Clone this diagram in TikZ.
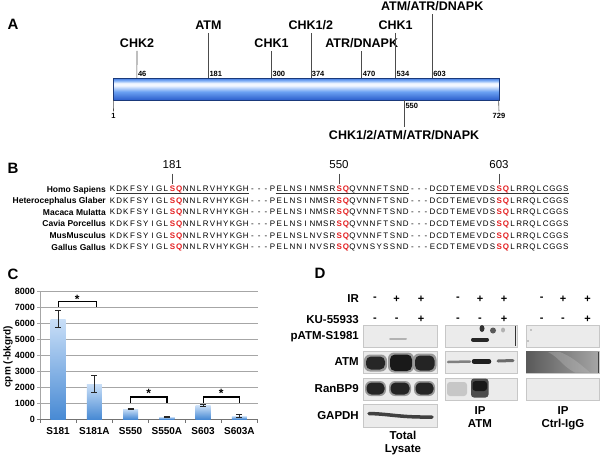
\documentclass[tikz,border=0pt]{standalone}
\usepackage{fontspec}
\setmainfont{Liberation Sans}
\definecolor{sqred}{HTML}{E41E20}
\definecolor{pb1}{rgb}{0.17,0.37,0.80}
\definecolor{pb2}{rgb}{0.42,0.63,0.95}
\definecolor{pb3}{rgb}{0.95,0.97,1.00}
\definecolor{pb4}{rgb}{0.52,0.70,0.97}
\definecolor{pb5}{rgb}{0.22,0.45,0.87}
\definecolor{cbtop}{RGB}{200,222,247}
\definecolor{cbbot}{RGB}{72,138,212}
\pgfdeclareverticalshading{protbar}{100bp}{color(0bp)=(pb1); color(25bp)=(pb1); color(44bp)=(pb2); color(58bp)=(pb3); color(63bp)=(pb3); color(69bp)=(pb4); color(75bp)=(pb5); color(100bp)=(pb5)}
\def\sqloop#1{\ifx\relax#1\else\makebox[6.667pt]{#1}\expandafter\sqloop\fi}
\newcommand\sqs[1]{\sqloop#1\relax}
\newcommand\rsq{{\color{sqred}\bfseries\sqs{SQ}}}
\newcommand\seqrow[3]{\sqs{KDKFSYIGL}\rsq\sqs{NNLRVHYKGH---#1}\rsq\sqs{#2---#3}\rsq\sqs{LRRQLCGGS}}
\begin{document}
\begin{tikzpicture}[x=1pt,y=-1pt,
  panel/.style={font=\bfseries\fontsize{15}{16}\selectfont, inner sep=0pt, text depth=0pt},
  lab/.style={font=\bfseries\fontsize{12.5}{14}\selectfont, inner sep=0pt, text depth=0pt, outer sep=3.5pt},
  num/.style={font=\bfseries\fontsize{7.5}{8}\selectfont, inner sep=0pt, text depth=0pt},
  tick/.style={draw=black!70, line width=0.6pt},
  resn/.style={font=\fontsize{11.5}{13}\selectfont, inner sep=0pt, text depth=0pt, outer sep=5pt},
  spec/.style={font=\bfseries\fontsize{8.5}{10}\selectfont, inner sep=0pt, text depth=0pt, anchor=east},
  seqt/.style={font=\fontsize{8}{10}\selectfont, inner sep=0pt, text depth=0pt, anchor=west},
  axl/.style={font=\bfseries\fontsize{9}{10}\selectfont, inner sep=0pt, text depth=0pt, anchor=east},
  catl/.style={font=\bfseries\fontsize{10}{11}\selectfont, inner sep=0pt, text depth=0pt},
  grid/.style={draw=black!35, line width=0.8pt},
  cbar/.style={top color=cbtop, bottom color=cbbot, draw=none},
  err/.style={draw=black!85, line width=0.8pt},
  brk/.style={draw=black, line width=1.2pt},
  star/.style={font=\bfseries\fontsize{12}{12}\selectfont, inner sep=0pt, anchor=base},
  lbl/.style={font=\bfseries\fontsize{11.5}{13}\selectfont, inner sep=0pt, text depth=0pt},
  sgn/.style={font=\bfseries\fontsize{11}{12}\selectfont, inner sep=0pt, text depth=0pt},
  blot/.style={fill=black!8, draw=black!22, line width=0.4pt}
]
\useasboundingbox (0,0) rectangle (600,456);
\fill[white] (0,0) rectangle (600,456);

% ---------------- Panel A ----------------
\node[panel] (pA) at (13,24) {A};
\node[draw=pb1!60!black, line width=0.7pt, minimum width=386pt, minimum height=22pt, inner sep=0pt, shading=protbar] (bar) at (306,89) {};

\node[lab] (kchk2) at (137,43) {CHK2};
\node[lab] (katm) at (208.4,25) {ATM};
\node[lab] (kchk1a) at (271.5,43) {CHK1};
\node[lab] (kchk12) at (310.8,25) {CHK1/2};
\node[lab] (katr) at (361.7,43) {ATR/DNAPK};
\node[lab] (kchk1b) at (395.6,25) {CHK1};
\node[lab] (kaad) at (432.2,6) {ATM/ATR/DNAPK};
\node[lab] (kall) at (404.1,135) {CHK1/2/ATM/ATR/DNAPK};

\coordinate (t46) at (136.9,78);
\coordinate (t181) at (208.4,78);
\coordinate (t300) at (271.5,78);
\coordinate (t374) at (310.8,78);
\coordinate (t470) at (361.7,78);
\coordinate (t534) at (395.6,78);
\coordinate (t603) at (432.2,78);
\coordinate (t550) at (404.1,100);

\draw[tick] (kchk2.south) -- (t46);
\draw[tick] (katm.south) -- (t181);
\draw[tick] (kchk1a.south) -- (t300);
\draw[tick] (kchk12.south) -- (t374);
\draw[tick] (katr.south) -- (t470);
\draw[tick] (kchk1b.south) -- (t534);
\draw[tick] (kaad.south) -- (t603);
\draw[tick] (t550) -- (kall.north);

\node[num, anchor=south west] (n46) at (137.8,76.5) {46};
\node[num, anchor=south west] (n181) at (209.3,76.5) {181};
\node[num, anchor=south west] (n300) at (272.4,76.5) {300};
\node[num, anchor=south west] (n374) at (311.7,76.5) {374};
\node[num, anchor=south west] (n470) at (362.6,76.5) {470};
\node[num, anchor=south west] (n534) at (396.5,76.5) {534};
\node[num, anchor=south west] (n603) at (433.1,76.5) {603};
\node[num, anchor=west] (n550) at (405.3,106) {550};
\node[num, outer sep=2pt] (n1) at (113.5,116) {1};
\node[num, outer sep=2pt] (n729) at (499,116) {729};
\coordinate (b1) at (113.3,100);
\coordinate (b729) at (498.6,100);
\draw[tick] (b1) -- (n1.north);
\draw[tick] (b729) -- (n729.north);

% ---------------- Panel B ----------------
\node[panel] (pB) at (13,168) {B};
\node[resn] (r181) at (172.3,164.5) {181};
\node[resn] (r550) at (339,164.5) {550};
\node[resn] (r603) at (499,164.5) {603};
\coordinate (q181) at (172.3,184);
\coordinate (q550) at (339,184);
\coordinate (q603) at (499,184);
\draw[tick] (r181.south) -- (q181);
\draw[tick] (r550.south) -- (q550);
\draw[tick] (r603.south) -- (q603);

\node[spec] (s1) at (106,189) {Homo Sapiens};
\node[spec] (s2) at (106,200.6) {Heterocephalus Glaber};
\node[spec] (s3) at (106,212.2) {Macaca Mulatta};
\node[spec] (s4) at (106,223.8) {Cavia Porcellus};
\node[spec] (s5) at (106,235.4) {MusMusculus};
\node[spec] (s6) at (106,247) {Gallus Gallus};
\node[seqt] (q1) at (109,189) {\seqrow{PELNSINMSR}{QVNNFTSND}{DCDTEMEVDS}};
\node[seqt] (q2) at (109,200.6) {\seqrow{PELNSINMSR}{QVNNFTSND}{DCDTEMEVDS}};
\node[seqt] (q3) at (109,212.2) {\seqrow{PELNSINMSR}{QVNNFTSND}{DCDTEMEVDS}};
\node[seqt] (q4) at (109,223.8) {\seqrow{PELNSINMSR}{QVNNFTSND}{DCDTEMEVDS}};
\node[seqt] (q5) at (109,235.4) {\seqrow{PELNSLNVSR}{QVNNFTSND}{DCDTEMEVDC}};
\node[seqt] (q6) at (109,247) {\seqrow{PELNNINVSR}{QVNSYSSND}{ECDTEMEVDS}};
\draw[black!80, line width=0.6pt] (115.7,193.6) -- (249,193.6);
\draw[black!80, line width=0.6pt] (275.7,193.6) -- (409,193.6);
\draw[black!80, line width=0.6pt] (435.7,193.6) -- (569,193.6);

% ---------------- Panel C ----------------
\node[panel] (pC) at (13,274) {C};
\foreach \v in {1,...,8} {
  \draw[grid] (40,{419-16*\v}) -- (257.5,{419-16*\v});
  \draw[grid] (37,{419-16*\v}) -- (40,{419-16*\v});
  \node[axl] at (35,{419-16*\v}) {\v000};
}
\node[axl] at (35,419) {0};
\draw[grid] (40,291) -- (40,419);
\draw[draw=black!55, line width=0.8pt] (37,419) -- (257.5,419);
\foreach \k in {0,...,6} \draw[draw=black!55, line width=0.7pt] ({40+36.25*\k},419) -- ({40+36.25*\k},423);
\node[font=\bfseries\fontsize{10}{11}\selectfont, inner sep=0pt, rotate=90] (ytit) at (8,357) {cpm (-bkgrd)};

\foreach \k/\val/\lo/\hi/\nm in {0/6200/5720/6770/S181, 1/2170/1650/2750/S181A, 2/620/600/640/S550, 3/130/100/170/S550A, 4/820/760/900/S603, 5/180/80/300/S603A} {
  \pgfmathsetmacro\cx{40+36.25*(\k+0.5)}
  \shade[cbar] ({\cx-7.5},419) rectangle ({\cx+7.5},{419-0.016*\val});
  \draw[err] (\cx,{419-0.016*\lo}) -- (\cx,{419-0.016*\hi});
  \draw[err] ({\cx-3},{419-0.016*\lo}) -- ({\cx+3},{419-0.016*\lo});
  \draw[err] ({\cx-3},{419-0.016*\hi}) -- ({\cx+3},{419-0.016*\hi});
  \node[catl] at (\cx,430.7) {\nm};
}
\draw[brk] (58.1,306.7) -- (58.1,301.7) -- (96.3,301.7) -- (96.3,306.7);
\node[star] (st1) at (77.2,303.5) {*};
\draw[brk] (130.6,402.7) -- (130.6,397) -- (167,397) -- (167,402.7);
\node[star] (st2) at (148.8,397.8) {*};
\draw[brk] (203.1,402.7) -- (203.1,397) -- (239.4,397) -- (239.4,402.7);
\node[star] (st3) at (221.2,397.8) {*};

% ---------------- Panel D ----------------
\node[panel] (pD) at (320,273) {D};
\node[lbl, anchor=east] (lIR) at (359,299) {IR};
\node[lbl, anchor=east] (lKU) at (359,319.3) {KU-55933};
\node[lbl, anchor=east] (lpATM) at (359,335) {pATM-S1981};
\node[lbl, anchor=east] (lATM) at (359,361.7) {ATM};
\node[lbl, anchor=east] (lRan) at (359,388.3) {RanBP9};
\node[lbl, anchor=east] (lGAP) at (359,415.7) {GAPDH};

\foreach \x/\a/\b in {375/-/-, 396.7/+/-, 421/+/+, 458/-/-, 480/+/-, 504/+/+, 541.7/-/-, 563/+/-, 587.7/+/+} {
  \node[sgn] at (\x,299) {\a};
  \node[sgn] at (\x,319.3) {\b};
}

% blot backgrounds
\foreach \xa/\xb in {363.3/436.7, 445/516.7, 525.7/599.3} {
  \fill[blot] (\xa,325) rectangle (\xb,346.7);
  \fill[blot] (\xa,351) rectangle (\xb,373.3);
  \fill[blot] (\xa,377.7) rectangle (\xb,400);
}
\fill[blot] (363.3,404.3) rectangle (436.7,426.7);

% total lysate bands
\draw[black!30, line width=2pt, line cap=round] (390,338.5) -- (406,338.5);
\fill[black!40, rounded corners=6pt] (364,354.5) rectangle (387,371.5);
\fill[black!85, rounded corners=5pt] (366,356.5) rectangle (385,369.5);
\fill[black!40, rounded corners=6pt] (388,352.5) rectangle (414,372.5);
\fill[black!90, rounded corners=5pt] (390,354.5) rectangle (412,371);
\fill[black!40, rounded corners=6pt] (413,353.5) rectangle (436.5,372);
\fill[black!86, rounded corners=5pt] (415,355.5) rectangle (434.5,370.5);
\foreach \xa/\xb in {365/386, 389/411, 414/435} {
  \fill[black!40, rounded corners=6pt] (\xa,381) rectangle (\xb,396);
  \fill[black!86, rounded corners=5pt] ({\xa+1.5},382.5) rectangle ({\xb-1.5},394.5);
}
\draw[black!75, line width=3.5pt, line cap=round] (369,413.5) .. controls (390,414) and (400,417.5) .. (432,417);

% IP ATM bands
\draw[black!85, line width=4pt, line cap=round] (473,339.5) -- (487,339.5);
\fill[black!80] (482,328.5) ellipse (2.5 and 3.5);
\fill[black!65] (493,330.5) ellipse (3 and 3);
\fill[black!30] (503,330) ellipse (2 and 2.5);
\draw[black!80, line width=1.3pt] (515.8,326) -- (515.8,346);
\draw[black!50, line width=2.5pt, line cap=round] (448,362) -- (470,361.5);
\draw[black!88, line width=4.5pt, line cap=round] (474,361.5) -- (489,361.5);
\draw[black!58, line width=3pt, line cap=round] (498,361) -- (513,360.5);
\fill[black!22, rounded corners=3pt] (447,382) rectangle (467,396);
\fill[black!70, rounded corners=3pt] (471,378.5) rectangle (488.5,397.5);
\fill[black!90, rounded corners=3pt] (472.5,381) rectangle (487,391);

% IP Ctrl-IgG
\shade[left color=black!65, right color=black!35] (526.2,351.5) rectangle (598.8,372.8);
\fill[black!25, opacity=0.35] (548,352) .. controls (560,358) and (562,366) .. (575,372.5) -- (590,372.5) .. controls (578,362) and (570,356) .. (560,352) -- cycle;
\draw[black!75, line width=1pt] (598.5,352) -- (598.5,373);
\fill[black!40] (531,330) circle (0.8);
\fill[black!40] (528,341) circle (0.8);

% bottom labels
\node[lbl, align=center] (tl) at (403,442.3) {Total\\Lysate};
\node[lbl, align=center] (ipa) at (480,417) {IP\\ATM};
\node[lbl, align=center] (ipc) at (563,417) {IP\\Ctrl-IgG};
\end{tikzpicture}
\end{document}
